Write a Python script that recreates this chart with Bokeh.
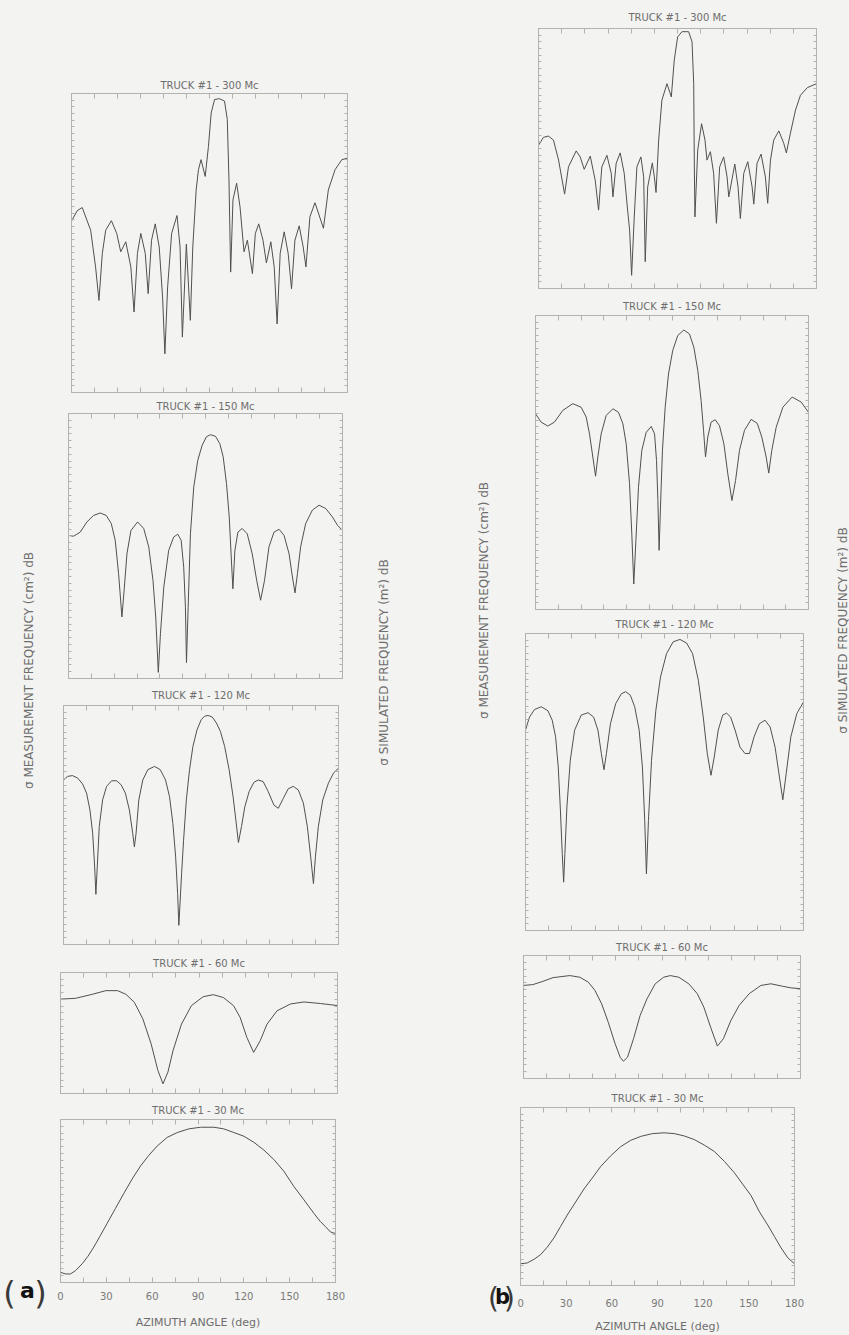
import math
from bokeh.plotting import figure
from bokeh.layouts import row, column
from bokeh.models import Range1d, LinearAxis, FixedTicker, Label
from bokeh.embed import file_html
from bokeh.resources import INLINE

# ---------------- data (azimuth deg, relative dB) ----------------
X_LABELED = [0, 30, 60, 90, 120, 150, 180]
X_MINOR = [15, 45, 75, 105, 135, 165]
X_ALL = list(range(0, 181, 15))

a1_x = [0, 3.7, 7.0, 12.5, 15.7, 17.9, 20.1, 22.3, 26.0, 29.5, 32.1, 35.4, 38.7, 40.8, 43.0, 45.2, 48.1, 50.0,
        52.2, 54.6, 57.2, 59.4, 60.9, 62.7, 65.3, 68.8, 70.8, 72.3, 74.9, 77.5, 79.1, 81.3, 82.8, 84.5, 87.2,
        89.3, 91.1, 93.3, 96.5, 99.8, 101.6, 102.7, 103.8, 105.3, 107.7, 109.9, 112.5, 114.7, 118.0, 119.9,
        122.1, 124.9, 127.1, 130.0, 132.2, 134.1, 136.1, 138.7, 141.3, 143.5, 145.7, 148.5, 151.1, 152.9,
        155.5, 158.8, 164.3, 167.5, 171.9, 176.3, 180]
a1_y = [43.0, 45.6, 46.4, 40.7, 31.5, 23.1, 34.9, 40.7, 43.1, 39.9, 35.3, 37.8, 31.5, 20.2, 34.9, 39.9, 34.9, 24.8,
        38.2, 42.3, 36.5, 23.9, 9.7, 26.5, 39.9, 44.4, 36.5, 13.9, 37.2, 18.1, 36.5, 50.8, 55.9, 58.4, 54.2,
        61.7, 70.1, 73.5, 73.7, 73.1, 68.5, 53.3, 30.2, 48.3, 52.5, 46.6, 35.3, 38.2, 29.8, 39.9,
        42.3, 38.2, 32.5, 37.8, 31.5, 17.2, 34.9, 40.3, 34.9, 26.0, 38.2, 41.8, 36.5, 31.5,
        44.1, 47.6, 41.2, 50.8, 55.9, 58.4, 58.8]

a2_x = [0, 3.3, 7.7, 12.1, 16.5, 20.9, 24.8, 28.1, 30.7, 32.9, 35.1, 36.7, 38.4, 41.0, 45.4, 49.4, 52.7, 55.5,
        57.3, 59.0, 60.4, 62.6, 65.8, 69.1, 71.8, 74.0, 75.7, 76.8, 77.5, 78.6, 80.1, 82.3, 84.9, 87.8, 90.6,
        93.3, 96.6, 99.4, 101.6, 103.8, 105.6, 106.9, 108.0, 109.3, 111.3, 114.1, 117.4, 120.7, 123.6, 126.2,
        128.8, 131.7, 135.0, 138.3, 141.6, 144.9, 147.1, 148.8, 150.4, 152.5, 155.8, 160.2, 164.6, 169.0,
        173.4, 176.7, 180]
a2_y = [35.1, 34.9, 35.9, 38.4, 40.0, 40.6, 40.0, 38.0, 33.9, 25.7, 15.1, 22.4, 30.6, 36.3, 38.4, 36.8, 32.3, 24.1,
        15.1, 1.5, 11.0, 22.4, 31.4, 34.7, 35.4, 33.9, 27.3, 17.5, 3.9, 17.5, 35.5, 47.0, 53.5, 57.2, 59.3,
        59.8, 59.4, 57.6, 54.4, 47.8, 39.6, 29.8, 22.0, 31.4, 35.9, 36.8, 35.5, 30.6, 24.1, 19.2,
        24.1, 32.3, 35.9, 36.6, 35.1, 30.6, 24.9, 21.0, 25.7, 32.3, 38.0, 41.3, 42.5, 41.7,
        39.6, 37.6, 36.3]

a3_x = [0, 2.6, 5.9, 9.2, 12.5, 15.1, 17.3, 19.1, 20.4, 21.2, 22.1, 23.4, 25.6, 28.2, 31.5, 34.8, 37.7, 40.5,
        43.1, 45.3, 46.4, 47.5, 49.3, 51.9, 55.2, 59.6, 63.3, 66.8, 69.4, 71.6, 73.4, 74.7, 75.5, 77.3, 78.6,
        80.4, 82.5, 84.7, 87.4, 90.2, 92.4, 94.6, 97.4, 100.1, 102.7, 105.5, 108.4, 111.0, 112.8, 114.5, 116.5,
        118.7, 121.5, 124.6, 127.4, 130.7, 134.0, 137.7, 140.6, 143.9, 147.1, 150.4, 153.7, 157.0, 159.6,
        161.8, 163.6, 164.9, 166.8, 169.7, 173.4, 176.7, 180]
a3_y = [41.3, 42.2, 42.4, 41.8, 40.3, 38.0, 33.8, 27.9, 19.5, 12.6, 19.5, 29.6, 36.3, 39.7, 41.1, 41.1, 40.1, 38.0,
        33.8, 27.9, 24.5, 27.9, 36.3, 41.3, 43.9, 44.7, 43.9, 41.3, 37.1, 30.4, 22.0, 12.8, 4.8, 17.8, 26.2,
        36.3, 43.9, 49.7, 53.9, 56.5, 57.3, 57.5, 57.1, 55.6, 53.5, 49.7, 43.9, 37.1, 31.3, 25.6, 29.6,
        34.6, 38.4, 40.7, 41.3, 40.9, 38.4, 35.0, 34.2, 36.7, 39.1, 39.7, 38.8, 35.5, 29.6,
        22.0, 15.3, 22.0, 29.6, 36.3, 40.5, 43.0, 44.3]

a4_x = [0, 9.8, 20.7, 29.5, 37.1, 42.5, 48.0, 53.5, 58.9, 63.3, 66.6, 69.8, 73.1, 78.6, 85.1, 92.7, 99.3, 105.8,
        112.4, 116.7, 121.1, 125.5, 129.8, 134.2, 140.7, 149.5, 158.2, 169.1, 180]
a4_y = [23.4, 23.6, 24.6, 25.5, 25.5, 24.6, 22.6, 18.5, 12.3, 5.7, 2.4, 5.3, 10.6, 17.2, 21.8, 24.0, 24.5, 23.8,
        21.8, 18.9, 13.9, 10.2, 13.1, 17.2, 20.5, 22.2, 22.7, 22.3, 21.8]

a5_x = [0, 3.3, 6.5, 9.8, 14.2, 17.9, 21.8, 26.2, 30.5, 36.0, 41.5, 46.9, 52.4, 57.8, 63.3, 69.8, 76.4, 84.0,
        91.6, 100.4, 106.9, 113.5, 120.0, 126.6, 133.1, 139.6, 146.2, 152.7, 159.3, 165.8, 170.2, 173.5, 176.7, 180]
a5_y = [2.5, 2.1, 2.1, 2.9, 4.6, 6.4, 8.7, 11.6, 14.5, 18.2, 21.9, 25.4, 28.6, 31.2, 33.5, 35.6, 36.8, 37.7,
        38.1, 38.1, 37.7, 36.8, 35.9, 34.4, 32.5, 30.2, 27.3, 23.6, 20.3, 17.0, 14.9, 13.7, 12.4, 12.0]

b1_x = [0, 3.2, 6.5, 9.7, 13.0, 16.9, 19.4, 24.4, 27.0, 29.6, 33.5, 36.7, 38.9, 41.0, 44.3, 47.1, 48.2, 50.3,
        52.9, 55.5, 57.7, 59.0, 60.3, 62.0, 63.7, 66.3, 68.1, 69.1, 70.7, 73.7, 75.0, 76.1, 77.8, 79.9, 83.2,
        86.0, 87.9, 90.1, 92.9, 97.2, 99.4, 100.5, 100.9, 101.3, 103.1, 105.6, 107.8, 109.1, 111.3, 113.4, 115.2,
        117.3, 119.9, 122.1, 123.2, 127.1, 129.2, 130.7, 132.9, 135.5, 138.3, 139.4, 141.5, 144.1, 146.9, 148.4,
        150.2, 152.3, 155.6, 158.8, 160.5, 163.1, 166.4, 169.6, 174.0, 180]
b1_y = [35.8, 37.8, 38.1, 37.1, 32.1, 23.6, 30.4, 34.4, 32.9, 29.8, 33.1, 27.1, 19.6, 30.4, 33.3, 28.8, 22.9, 31.3,
        33.9, 28.8, 19.6, 14.6, 3.3, 17.9, 30.4, 32.9, 27.9, 6.7, 25.4, 31.4, 27.9, 24.0, 37.1, 47.1, 51.2,
        47.9, 57.1, 62.9, 64.2, 64.2, 61.7, 51.2, 30.4, 17.9, 34.6, 41.2, 37.1, 32.1, 34.2, 28.8, 16.3,
        30.4, 32.9, 27.9, 22.9, 31.1, 25.4, 17.5, 28.8, 31.7, 25.4, 21.1, 31.3, 33.6, 27.9, 21.3,
        32.1, 37.1, 39.4, 36.3, 33.9, 38.8, 44.6, 48.3, 50.2, 51.2]

b2_x = [0, 3.7, 8.1, 12.5, 18.0, 24.6, 30.1, 33.4, 35.6, 37.8, 39.6, 41.1, 43.3, 46.6, 51.0, 54.7, 57.6, 59.8,
        62.0, 63.5, 64.8, 66.2, 67.9, 70.1, 73.0, 76.3, 78.5, 79.8, 80.7, 81.5, 82.4, 83.7, 85.5, 87.7, 90.5,
        93.8, 97.8, 101.5, 104.4, 107.0, 109.2, 110.8, 112.1, 113.6, 115.8, 118.5, 121.3, 124.2, 126.8, 129.5,
        131.9, 134.5, 137.8, 142.2, 146.2, 149.2, 152.1, 153.8, 155.8, 158.7, 163.1, 169.2, 175.2, 180]
b2_y = [49.9, 47.8, 46.8, 47.8, 50.8, 52.5, 51.6, 49.1, 44.8, 38.9, 34.0, 38.9, 44.8, 49.5, 51.2, 50.3, 47.4, 42.3,
        32.1, 19.3, 6.5, 17.6, 31.2, 40.6, 45.2, 46.7, 44.8, 38.0, 27.8, 15.1, 26.1, 40.6, 51.6, 60.1, 66.1,
        69.9, 71.3, 70.3, 66.9, 61.0, 53.3, 45.7, 38.9, 44.0, 47.8, 48.4, 46.9, 42.3, 34.6, 27.8,
        32.9, 40.6, 45.7, 48.5, 47.5, 44.0, 38.9, 34.8, 40.6, 46.5, 51.6, 54.2, 52.9, 50.3]

b3_x = [0, 2.6, 5.8, 10.2, 14.5, 17.3, 19.5, 21.2, 22.5, 23.8, 24.7, 25.5, 26.8, 29.0, 31.8, 36.1, 40.5, 44.1,
        46.9, 49.1, 50.8, 52.4, 55.0, 58.4, 62.1, 64.9, 67.9, 70.7, 73.6, 75.7, 77.2, 78.3, 79.6, 81.6, 84.4,
        87.4, 91.3, 95.6, 100.0, 104.3, 108.2, 111.9, 115.1, 117.7, 120.1, 122.2, 124.8, 127.7, 130.2, 132.8,
        135.7, 138.9, 142.1, 145.0, 148.0, 151.4, 155.1, 158.4, 161.6, 164.4, 166.6, 168.8, 171.8, 175.7, 180]
b3_y = [50.6, 53.9, 55.8, 56.5, 55.5, 53.1, 48.9, 41.3, 31.2, 19.4, 12.2, 19.4, 31.2, 43.0, 50.6, 54.4, 55.0, 53.9,
        50.6, 44.7, 40.6, 44.7, 52.2, 57.3, 59.8, 60.3, 59.4, 56.5, 50.6, 41.3, 27.8, 14.3, 27.8, 43.0, 55.6,
        64.0, 69.9, 72.9, 73.5, 72.6, 69.9, 63.2, 53.9, 44.7, 39.2, 43.8, 50.6, 54.4, 54.9, 53.9,
        50.6, 46.3, 44.7, 44.7, 48.9, 52.2, 53.1, 51.4, 46.3, 38.8, 33.0, 39.6, 48.9, 54.8, 57.7]

b4_x = [0, 6.1, 12.6, 19.2, 30.1, 36.6, 42.1, 46.4, 50.8, 55.1, 59.5, 62.8, 64.9, 67.6, 71.5, 75.8, 80.2, 85.6,
        91.1, 95.4, 100.9, 107.4, 112.9, 117.2, 121.6, 126.0, 129.9, 134.7, 140.1, 146.7, 154.3, 160.8, 168.4,
        173.9, 180]
b4_y = [22.7, 22.9, 23.7, 24.6, 25.1, 24.7, 23.5, 21.5, 18.2, 13.7, 8.5, 5.2, 4.2, 5.2, 9.7, 15.4, 19.4, 23.1,
        24.7, 25.1, 24.7, 23.1, 20.7, 17.4, 12.5, 7.9, 9.7, 14.1, 17.8, 20.7, 22.7, 23.1, 22.5,
        22.1, 21.9]

b5_x = [0, 4.4, 8.8, 13.2, 17.6, 21.9, 26.3, 30.7, 36.2, 41.7, 47.2, 52.7, 59.3, 65.8, 72.4, 79.0, 86.7, 94.4,
        101.0, 107.6, 114.1, 120.7, 127.3, 133.9, 140.5, 146.0, 151.5, 157.0, 162.4, 166.8, 171.2, 175.6, 180]
b5_y = [5.5, 5.7, 6.6, 7.8, 9.7, 12.0, 14.9, 17.8, 21.1, 24.4, 27.2, 30.1, 32.8, 35.1, 36.7, 37.7, 38.4, 38.6,
        38.4, 37.8, 36.9, 35.5, 33.9, 31.4, 28.5, 25.6, 22.7, 18.6, 15.3, 12.4, 9.5, 7.0, 5.5]

TITLES = ["TRUCK #1 - 300 Mc", "TRUCK #1 - 150 Mc", "TRUCK #1 - 120 Mc", "TRUCK #1 - 60 Mc", "TRUCK #1 - 30 Mc"]
XLABEL = "AZIMUTH ANGLE (deg)"
YLABEL_MEAS = "\u03c3 MEASUREMENT FREQUENCY (cm\u00b2) dB"
YLABEL_SIM = "\u03c3 SIMULATED FREQUENCY (m\u00b2) dB"

# ---------------- style ----------------
BG = "#f3f3f1"
FRAME = "#b2b2b0"
CURVE = "#505050"
TXT = "#6e6e6e"
FONT = "DejaVu Sans"
TOTAL_H = 1335


def base_axis(ticker):
    ax = LinearAxis(ticker=ticker)
    ax.axis_line_color = FRAME
    ax.major_tick_line_color = FRAME
    ax.minor_tick_line_color = FRAME
    ax.major_tick_out = 0
    ax.minor_tick_out = 0
    ax.major_label_standoff = 0
    return ax


def blank(width, height):
    s = figure(width=width, height=height, x_range=Range1d(0, 1), y_range=Range1d(0, 1),
               output_backend="svg", toolbar_location=None, x_axis_location=None, y_axis_location=None,
               min_border=0)
    s.outline_line_color = None
    s.background_fill_color = BG
    s.border_fill_color = BG
    s.grid.visible = False
    return s


def make_panel(xs, ys, title, ymax, col_w, dx, fig_h, left, top, fw, fh, tstand,
               labels=False, lab_stand=10, ax_stand=14):
    fig_w = col_w - dx
    right = fig_w - left - fw
    bottom = fig_h - top - fh
    p = figure(width=fig_w, height=fig_h, x_range=Range1d(0, 180), y_range=Range1d(0, ymax),
               output_backend="svg", toolbar_location=None,
               x_axis_location=None, y_axis_location=None,
               min_border_left=left, min_border_right=right,
               min_border_top=top, min_border_bottom=bottom)
    p.background_fill_color = BG
    p.border_fill_color = BG
    p.outline_line_color = FRAME
    p.grid.visible = False
    for loc in ("below", "above"):
        if loc == "below" and labels:
            ax = base_axis(FixedTicker(ticks=X_LABELED, minor_ticks=X_MINOR))
            ax.major_tick_in = 5
            ax.minor_tick_in = 5
            ax.major_label_text_font_size = "10px"
            ax.major_label_text_color = "#7a7a7a"
            ax.major_label_text_font = FONT
            ax.major_label_standoff = lab_stand
            ax.axis_label = XLABEL
            ax.axis_label_text_font_size = "11px"
            ax.axis_label_text_font_style = "normal"
            ax.axis_label_text_color = TXT
            ax.axis_label_text_font = FONT
            ax.axis_label_standoff = ax_stand
        else:
            ax = base_axis(FixedTicker(ticks=[], minor_ticks=X_ALL))
            ax.minor_tick_in = 5
        p.add_layout(ax, loc)
    y_ticks = [i * 5.0 / 3.0 for i in range(int(ymax * 3 / 5) + 1)]
    for loc in ("left", "right"):
        ax = base_axis(FixedTicker(ticks=[], minor_ticks=y_ticks))
        ax.minor_tick_in = 3
        p.add_layout(ax, loc)
    p.line(xs, ys, line_color=CURVE, line_width=1.0, line_join="round")
    p.title.text = title
    p.title.align = "center"
    p.title.text_font_size = "10px"
    p.title.text_font_style = "normal"
    p.title.text_color = TXT
    p.title.text_font = FONT
    p.title.standoff = tstand
    return row(blank(dx, fig_h), p)


def side(width, labels, height=TOTAL_H):
    s = blank(width, height)
    s.x_range = Range1d(0, width)
    s.y_range = Range1d(0, height)
    for lab in labels:
        s.add_layout(lab)
    return s


def vlabel(x, y, text):
    return Label(x=x, y=y, x_units="screen", y_units="screen", text=text, angle=math.pi / 2,
                 text_align="center", text_baseline="middle", text_font_size="12px",
                 text_color=TXT, text_font=FONT)


def glyph(x, y, text, size, style="normal", color="#222222"):
    return Label(x=x, y=y, x_units="screen", y_units="screen", text=text,
                 text_align="center", text_baseline="middle", text_font_size=size,
                 text_font_style=style, text_color=color, text_font=FONT)


# ---------------- column (a) : starts at x=48, width 310 ----------------
WA = 310
a1 = make_panel(a1_x, a1_y, TITLES[0], 75, WA, 12, 327, 11, 25, 276, 299, 5)
a2 = make_panel(a2_x, a2_y, TITLES[1], 65, WA, 9, 287, 11, 18, 274, 265, 4)
a3 = make_panel(a3_x, a3_y, TITLES[2], 60, WA, 4, 266, 11, 23, 275, 239, 10)
a4 = make_panel(a4_x, a4_y, TITLES[3], 30, WA, 1, 147, 11, 24, 277, 121, 8)
a5 = make_panel(a5_x, a5_y, TITLES[4], 40, WA, 1, 240, 11, 24, 275, 163, 8, labels=True, lab_stand=9, ax_stand=13)
colA = column(blank(WA, 68), a1, a2, a3, a4, a5)

# ---------------- column (b) : starts at x=516, width 318 ----------------
WB = 318
b1 = make_panel(b1_x, b1_y, TITLES[0], 65, WB, 19, 293, 3, 28, 278, 260, 12)
b2 = make_panel(b2_x, b2_y, TITLES[1], 75, WB, 16, 319, 3, 22, 273, 294, 8)
b3 = make_panel(b3_x, b3_y, TITLES[2], 75, WB, 6, 323, 3, 21, 278, 297, 7)
b4 = make_panel(b4_x, b4_y, TITLES[3], 30, WB, 4, 150, 3, 20, 277, 123, 5)
b5 = make_panel(b5_x, b5_y, TITLES[4], 45, WB, 1, 250, 3, 22, 274, 181, 7, labels=True, lab_stand=13, ax_stand=10)
colB = column(b1, b2, b3, b4, b5)

# ---------------- side labels ----------------
sideAL = side(48, [vlabel(28, 665, YLABEL_MEAS),
                   glyph(9, 43, "(", "32px", color="#3a3a3a"),
                   glyph(27, 45, "a", "22px", "bold", "#111111"),
                   glyph(40, 43, ")", "32px", color="#3a3a3a")])
sideAR = side(50, [vlabel(25, 673, YLABEL_SIM)])
sideBL = side(108, [vlabel(75, 735, YLABEL_MEAS),
                    glyph(85, 37, "(", "28px", color="#3a3a3a"),
                    glyph(94, 39, "b", "21px", "bold", "#111111"),
                    glyph(101, 37, ")", "28px", color="#3a3a3a")])
sideBR = side(15, [vlabel(8, 705, YLABEL_SIM)])

layout = row(sideAL, colA, sideAR, sideBL, colB, sideBR)

html = file_html(layout, INLINE, title="Truck #1 RCS")
html = html.replace("</head>", "<style>html, body { background: %s; }</style></head>" % BG, 1)
open("out.html", "w").write(html)
